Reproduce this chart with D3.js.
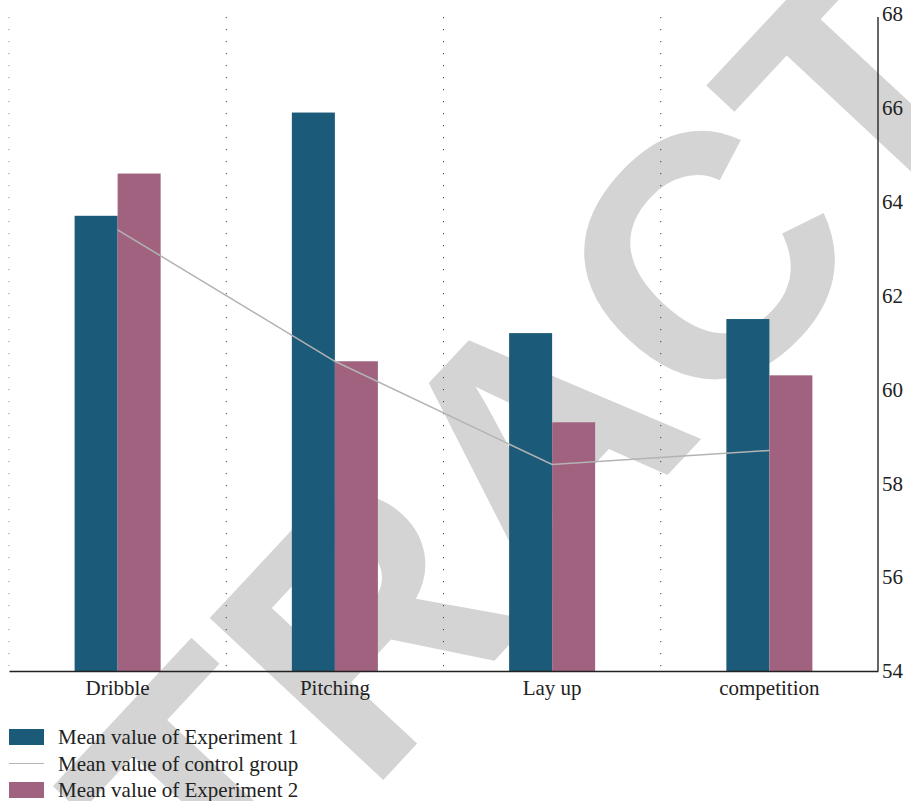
<!DOCTYPE html>
<html>
<head>
<meta charset="utf-8">
<script src="https://cdn.jsdelivr.net/npm/d3@7/dist/d3.min.js"></script>
<style>
  html, body { margin: 0; padding: 0; background: #fff; }
  svg { display: block; }
</style>
</head>
<body>
<svg id="chart" width="911" height="801"></svg>
<script>
// Skill test means per item
const categories = ["Dribble", "Pitching", "Lay up", "competition"];
const experiment1 = [63.7, 65.9, 61.2, 61.5];
const experiment2 = [64.6, 60.6, 59.3, 60.3];
const controlGroup = [63.4, 60.6, 58.4, 58.7];
const yTicks = [54, 56, 58, 60, 62, 64, 66, 68];
const legendLabels = ["Mean value of Experiment 1", "Mean value of control group", "Mean value of Experiment 2"];

const colors = { e1: "#1b5a79", e2: "#a0627f", ctrl: "#b3b3b3" };
const serif = "'Liberation Serif', 'DejaVu Serif', serif";
const fontSize = 21;

const svg = d3.select("#chart");
const plotLeft = 9, plotRight = 878, plotTop = 14, plotBottom = 671;

const x = d3.scaleBand().domain(categories).range([plotLeft, plotRight]).padding(0);
const y = d3.scaleLinear().domain([54, 68]).range([plotBottom, plotTop]);
const barW = x.bandwidth() * 0.198;
const cx = d => x(d) + x.bandwidth() / 2;

// Watermark behind the plot
svg.append("text")
  .attr("transform", "translate(535,442) rotate(-47)")
  .attr("text-anchor", "middle")
  .attr("dominant-baseline", "central")
  .attr("font-family", "'Liberation Sans', Arial, sans-serif")
  .attr("font-weight", "bold")
  .attr("font-size", 345)
  .attr("fill", "#d4d4d4")
  .text("RETRACTED");

// Dotted separators between categories
const seps = categories.map(c => x(c));
svg.append("g").selectAll("line").data(seps).join("line")
  .attr("x1", d => d).attr("x2", d => d)
  .attr("y1", y(68) + 3).attr("y2", plotBottom)
  .attr("stroke", (d, i) => i === 0 ? "#999" : "#444")
  .attr("stroke-width", 1)
  .attr("stroke-dasharray", "1.2,10.8");

// Bars
const g = svg.append("g");
g.selectAll("rect.e1").data(categories).join("rect")
  .attr("class", "e1")
  .attr("x", (d) => cx(d) - barW)
  .attr("width", barW)
  .attr("y", (d, i) => y(experiment1[i]))
  .attr("height", (d, i) => plotBottom - y(experiment1[i]))
  .attr("fill", colors.e1);
g.selectAll("rect.e2").data(categories).join("rect")
  .attr("class", "e2")
  .attr("x", (d) => cx(d))
  .attr("width", barW)
  .attr("y", (d, i) => y(experiment2[i]))
  .attr("height", (d, i) => plotBottom - y(experiment2[i]))
  .attr("fill", colors.e2);

// Control group line
const line = d3.line().x((d, i) => cx(categories[i])).y(d => y(d));
svg.append("path")
  .datum(controlGroup)
  .attr("d", line)
  .attr("fill", "none")
  .attr("stroke", colors.ctrl)
  .attr("stroke-width", 1.5);

// Axes
const xAxis = svg.append("g")
  .attr("transform", `translate(0,${plotBottom})`)
  .call(d3.axisBottom(x).tickSize(0).tickPadding(9));
xAxis.select(".domain").attr("stroke", "#222").attr("stroke-width", 1.5);
xAxis.selectAll("text").attr("font-family", serif).attr("font-size", fontSize).attr("fill", "#222");

const yAxis = svg.append("g")
  .attr("transform", `translate(${plotRight},0)`)
  .call(d3.axisRight(y).tickValues(yTicks).tickSize(0).tickPadding(4).tickFormat(d3.format("d")));
yAxis.select(".domain").attr("stroke", "#333").attr("stroke-width", 1.5)
  .attr("d", `M0,${y(68) + 3}V${plotBottom}`);
yAxis.selectAll("text").attr("font-family", serif).attr("font-size", fontSize).attr("fill", "#222");

// Legend
const legend = svg.append("g").attr("transform", "translate(9,737)");
const rowH = 26.5;
legendLabels.forEach((label, i) => {
  const row = legend.append("g").attr("transform", `translate(0,${i * rowH})`);
  if (i === 1) {
    row.append("line").attr("x1", 0).attr("x2", 35).attr("y1", 0).attr("y2", 0)
      .attr("stroke", colors.ctrl).attr("stroke-width", 1.2);
  } else {
    row.append("rect").attr("x", 0).attr("y", -8).attr("width", 35).attr("height", 16)
      .attr("fill", i === 0 ? colors.e1 : colors.e2);
  }
  row.append("text").attr("x", 49).attr("y", 0)
    .attr("dominant-baseline", "central")
    .attr("font-family", serif).attr("font-size", fontSize).attr("fill", "#222")
    .text(label);
});
</script>
</body>
</html>
